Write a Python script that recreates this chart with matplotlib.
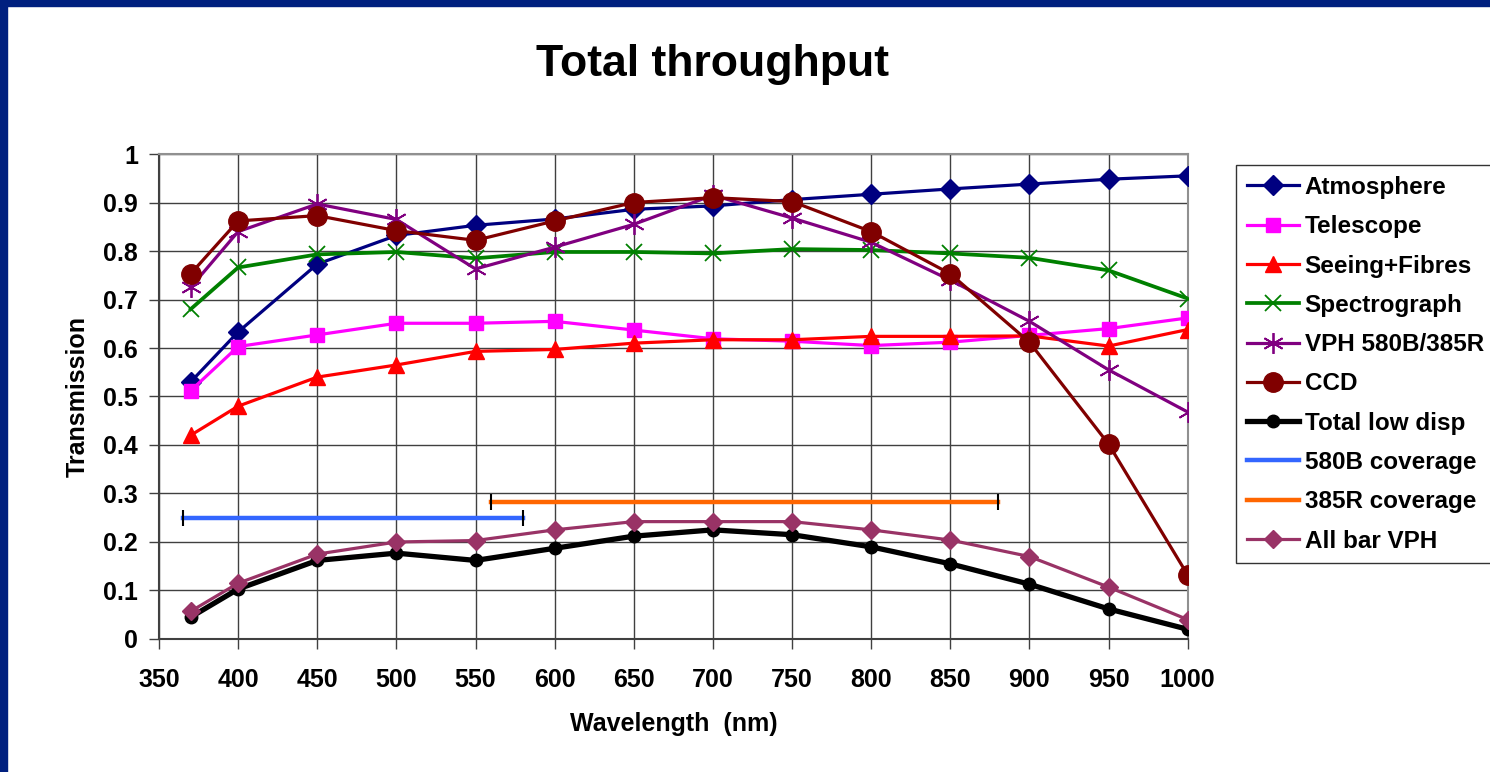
import numpy as np
import matplotlib
matplotlib.use("Agg")
import matplotlib.pyplot as plt
from matplotlib.patches import Rectangle
from matplotlib.ticker import FuncFormatter, MultipleLocator

plt.rcParams['font.family'] = ['Liberation Sans', 'DejaVu Sans']
plt.rcParams['font.weight'] = 'bold'

# wavelength grid (nm)
wavelength = [370, 400, 450, 500, 550, 600, 650, 700, 750, 800, 850, 900, 950, 1000]

atmosphere = [0.53, 0.633, 0.773, 0.832, 0.853, 0.866, 0.886, 0.893, 0.906, 0.917, 0.928, 0.938, 0.948, 0.955]
telescope = [0.512, 0.603, 0.627, 0.651, 0.651, 0.655, 0.637, 0.619, 0.614, 0.605, 0.612, 0.626, 0.640, 0.662]
seeing_fibres = [0.42, 0.48, 0.54, 0.565, 0.593, 0.597, 0.61, 0.617, 0.617, 0.624, 0.624, 0.625, 0.604, 0.638]
spectrograph = [0.68, 0.766, 0.793, 0.798, 0.785, 0.798, 0.798, 0.795, 0.804, 0.802, 0.795, 0.786, 0.76, 0.702]
vph = [0.725, 0.84, 0.897, 0.865, 0.763, 0.808, 0.855, 0.915, 0.868, 0.818, 0.74, 0.655, 0.555, 0.468]
ccd = [0.753, 0.862, 0.873, 0.842, 0.822, 0.862, 0.90, 0.91, 0.902, 0.84, 0.753, 0.612, 0.402, 0.132]
total_low = [0.045, 0.103, 0.162, 0.177, 0.162, 0.187, 0.212, 0.225, 0.215, 0.19, 0.155, 0.113, 0.062, 0.02]
all_bar_vph = [0.057, 0.115, 0.175, 0.2, 0.203, 0.225, 0.242, 0.242, 0.242, 0.225, 0.204, 0.17, 0.107, 0.04]

# grating coverage ranges
cov_580b_x = [365, 580]
cov_580b_y = [0.25, 0.25]
cov_385r_x = [560, 880]
cov_385r_y = [0.283, 0.283]

fig = plt.figure(figsize=(14.9, 7.72), dpi=100)
ax = fig.add_axes([0.1067, 0.1723, 0.6904, 0.6282])

lw = 2.3
ax.plot(wavelength, atmosphere, color='#000080', lw=lw, marker='D', ms=10, label='Atmosphere', zorder=3)
ax.plot(wavelength, telescope, color='#FF00FF', lw=lw, marker='s', ms=10, label='Telescope', zorder=3)
ax.plot(wavelength, seeing_fibres, color='#FF0000', lw=lw, marker='^', ms=11, label='Seeing+Fibres', zorder=3)
ax.plot(wavelength, spectrograph, color='#008000', lw=lw + 0.4, marker='x', ms=12, mew=1.3, label='Spectrograph', zorder=3)
ax.plot(wavelength, vph, color='#800080', lw=lw, marker=(6, 2, 0), ms=15, mew=1.3, label='VPH 580B/385R', zorder=3)
ax.plot(wavelength, ccd, color='#800000', lw=lw, marker='o', ms=14, label='CCD', zorder=3)
ax.plot(wavelength, total_low, color='black', lw=3.8, marker='o', ms=9, label='Total low disp', zorder=3)
ax.plot(cov_580b_x, cov_580b_y, color='#3366FF', lw=3.2, label='580B coverage', zorder=3)
ax.plot(cov_385r_x, cov_385r_y, color='#FF6600', lw=3.2, label='385R coverage', zorder=3)
ax.plot(cov_580b_x, cov_580b_y, ls='none', marker='|', ms=12, mew=1.5, mec='black', zorder=4)
ax.plot(cov_385r_x, cov_385r_y, ls='none', marker='|', ms=12, mew=1.5, mec='black', zorder=4)
ax.plot(wavelength, all_bar_vph, color='#993366', lw=lw, marker='D', ms=9, label='All bar VPH', zorder=3)

ax.set_xlim(350, 1000)
ax.set_ylim(0, 1)
ax.xaxis.set_major_locator(MultipleLocator(50))
ax.yaxis.set_major_locator(MultipleLocator(0.1))
ax.yaxis.set_major_formatter(FuncFormatter(lambda v, p: '%g' % round(v, 1)))
ax.grid(True, color='#404040', lw=1.0)
ax.set_axisbelow(True)
for s in ['top', 'right']:
    ax.spines[s].set_color('#909090')
    ax.spines[s].set_linewidth(1.5)
for s in ['left', 'bottom']:
    ax.spines[s].set_color('#404040')
    ax.spines[s].set_linewidth(1.5)
ax.tick_params(axis='x', direction='out', length=7, width=1.0, color='#404040',
               labelsize=18, pad=14)
ax.tick_params(axis='y', direction='out', length=7, width=1.0, color='#404040',
               labelsize=18, pad=8)
for lab in ax.get_xticklabels() + ax.get_yticklabels():
    lab.set_fontweight('bold')

ax.set_xlabel('Wavelength  (nm)', fontsize=18, fontweight='bold', labelpad=14)
ax.set_ylabel('Transmission', fontsize=18, fontweight='bold', labelpad=10)
fig.text(0.478, 0.916, 'Total throughput', fontsize=32, fontweight='bold', ha='center', va='center')

leg = fig.legend(loc='upper left', bbox_to_anchor=(1236 / 1490, 1 - 165 / 772),
                 fontsize=17.5, frameon=True, fancybox=False, handlelength=2.15,
                 labelspacing=0.67, borderpad=0.45, handletextpad=0.22, borderaxespad=0)
leg.get_frame().set_edgecolor('black')
leg.get_frame().set_linewidth(1.0)
for t in leg.get_texts():
    t.set_fontweight('bold')

# slide frame (blue band top and left)
fig.patches.append(Rectangle((0, 1 - 6 / 772), 1, 6 / 772, transform=fig.transFigure,
                             color='#00207F', zorder=0))
fig.patches.append(Rectangle((0, 0), 7 / 1490, 1, transform=fig.transFigure,
                             color='#00207F', zorder=0))

fig.savefig('out.png', dpi=100)
